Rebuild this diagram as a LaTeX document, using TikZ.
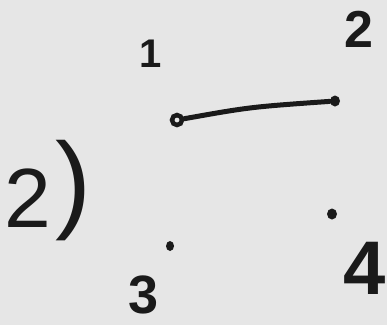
\documentclass[tikz,border=0pt]{standalone}
\usepackage{fontspec}
\usetikzlibrary{shapes.geometric}
\setmainfont{Liberation Sans}
\definecolor{bg}{HTML}{E6E6E6}
\definecolor{ink}{HTML}{1A1A1A}
\begin{document}
\begin{tikzpicture}[x=1pt,y=-1pt,
  vtx/.style={ellipse,fill=ink,inner sep=0pt,minimum width=10pt,minimum height=11pt},
  lbl/.style={text=ink,inner sep=0pt}]
\fill[bg] (0,0) rectangle (387,325);
\useasboundingbox (0,0) rectangle (387,325);
\node[circle,draw=ink,line width=4.5pt,inner sep=0pt,minimum size=10pt] (n1) at (177,120) {};
\node[vtx] (n2) at (335,101) {};
\node[vtx,minimum width=8pt,minimum height=10pt] (n3) at (170,246) {};
\node[vtx] (n4) at (332,214) {};
\draw[ink,line width=5pt,line cap=round] (n1) .. controls (250,107) .. (n2);
\node[lbl,font=\bfseries\fontsize{40}{40}\selectfont] (l1) at (151,54) {1};
\node[lbl,font=\bfseries\fontsize{52}{52}\selectfont] (l2) at (359,29) {2};
\node[lbl,font=\bfseries\fontsize{54}{54}\selectfont] (l3) at (144,295) {3};
\node[lbl,font=\bfseries\fontsize{76}{76}\selectfont] (l4) at (365,268) {4};
\node[lbl,font=\fontsize{84}{84}\selectfont] (t2) at (28,198) {2};
\node[lbl,font=\fontsize{108}{108}\selectfont] (tp) at (73,191) {)};
\end{tikzpicture}
\end{document}
